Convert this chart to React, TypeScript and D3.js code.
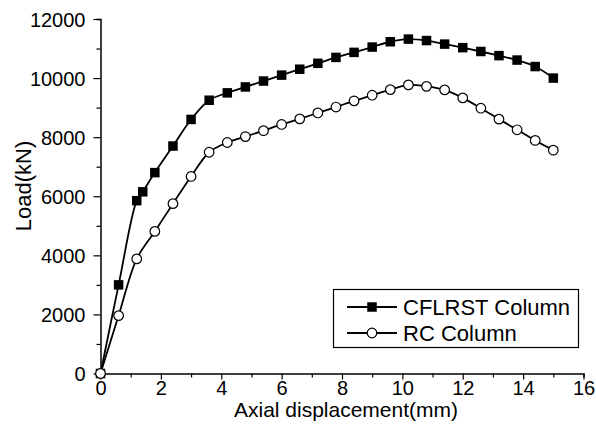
import React, { useEffect, useRef } from 'react';
import * as d3 from 'd3';

// displacement (mm) / load (kN)
const cflrstX = [0, 0.6, 1.2, 1.4, 1.8, 2.4, 3.0, 3.6, 4.2, 4.8, 5.4, 6.0, 6.6, 7.2, 7.8, 8.4, 9.0, 9.6, 10.2, 10.8, 11.4, 12.0, 12.6, 13.2, 13.8, 14.4, 15.0];
const cflrstY = [0, 3000, 5850, 6150, 6800, 7700, 8600, 9250, 9500, 9700, 9900, 10100, 10300, 10500, 10700, 10870, 11050, 11230, 11320, 11270, 11150, 11030, 10900, 10760, 10610, 10390, 10000];

const rcX = [0, 0.6, 1.2, 1.8, 2.4, 3.0, 3.6, 4.2, 4.8, 5.4, 6.0, 6.6, 7.2, 7.8, 8.4, 9.0, 9.6, 10.2, 10.8, 11.4, 12.0, 12.6, 13.2, 13.8, 14.4, 15.0];
const rcY = [0, 1960, 3880, 4810, 5750, 6670, 7490, 7820, 8020, 8220, 8430, 8620, 8820, 9020, 9230, 9420, 9610, 9770, 9720, 9600, 9330, 8980, 8610, 8250, 7890, 7560];

const xTicks = [0, 2, 4, 6, 8, 10, 12, 14, 16];
const yTicks = [0, 2000, 4000, 6000, 8000, 10000, 12000];
const seriesNames = ['CFLRST Column', 'RC Column'];

const W = 596;
const H = 432;
const FONT = 'Arial, "Liberation Sans", sans-serif';

const App = () => {
    const svgRef = useRef<SVGSVGElement>(null);

    useEffect(() => {
        const svg = d3.select(svgRef.current);
        svg.selectAll('*').remove();

        const x = d3.scaleLinear().domain([0, 16]).range([100.5, 583.5]);
        const y = d3.scaleLinear().domain([0, 12000]).range([373.5, 19]);

        // x axis, minor ticks every 1 mm
        const xAxis = svg.append('g')
            .attr('transform', `translate(0,${y(0)})`)
            .call(d3.axisBottom(x).tickValues(d3.range(0, 17, 1)).tickSize(4).tickFormat(() => ''));
        xAxis.selectAll('.tick text').remove();
        xAxis.selectAll('.tick line').filter((d: any) => xTicks.includes(d)).attr('y2', 6);
        xAxis.selectAll('.tick').filter((d: any) => xTicks.includes(d)).append('text')
            .attr('y', 21).attr('fill', '#000').attr('text-anchor', 'middle')
            .style('font-size', '20px').style('font-family', FONT)
            .text((d: any) => d);
        xAxis.select('.domain').attr('stroke-width', 1.5);

        // y axis, minor ticks every 1000 kN
        const yAxis = svg.append('g')
            .attr('transform', `translate(${x(0)},0)`)
            .call(d3.axisLeft(y).tickValues(d3.range(0, 13000, 1000)).tickSize(4).tickFormat(() => ''));
        yAxis.selectAll('.tick text').remove();
        yAxis.selectAll('.tick line').filter((d: any) => yTicks.includes(d)).attr('x2', -7);
        yAxis.selectAll('.tick').filter((d: any) => yTicks.includes(d)).append('text')
            .attr('x', -15).attr('dy', '0.35em').attr('fill', '#000').attr('text-anchor', 'end')
            .style('font-size', '20px').style('font-family', FONT)
            .text((d: any) => d);
        yAxis.select('.domain').attr('stroke-width', 1.5);
        svg.selectAll('.tick line').attr('stroke-width', 1.2);

        // titles
        svg.append('text')
            .attr('x', 346).attr('y', 417).attr('text-anchor', 'middle')
            .style('font-size', '21px').style('font-family', FONT)
            .text('Axial displacement(mm)');
        svg.append('text')
            .attr('transform', 'translate(31,186) rotate(-90)').attr('text-anchor', 'middle')
            .style('font-size', '22px').style('font-family', FONT)
            .text('Load(kN)');

        const lineGen = d3.line<[number, number]>()
            .x(d => x(d[0]))
            .y(d => y(d[1]))
            .curve(d3.curveCatmullRom.alpha(0.5));

        const cflrst: [number, number][] = cflrstX.map((v, i) => [v, cflrstY[i]]);
        const rc: [number, number][] = rcX.map((v, i) => [v, rcY[i]]);

        svg.append('path').datum(cflrst)
            .attr('d', lineGen).attr('fill', 'none').attr('stroke', '#000').attr('stroke-width', 1.8);
        svg.append('path').datum(rc)
            .attr('d', lineGen).attr('fill', 'none').attr('stroke', '#000').attr('stroke-width', 1.8);

        const sq = 9.5;
        svg.selectAll('.sq').data(cflrst).enter().append('rect')
            .attr('x', d => x(d[0]) - sq / 2).attr('y', d => y(d[1]) - sq / 2)
            .attr('width', sq).attr('height', sq).attr('fill', '#000');
        svg.selectAll('.ci').data(rc).enter().append('circle')
            .attr('cx', d => x(d[0])).attr('cy', d => y(d[1])).attr('r', 4.8)
            .attr('fill', '#fff').attr('stroke', '#000').attr('stroke-width', 1.2);

        // legend
        const lg = svg.append('g');
        lg.append('rect').attr('x', 333.5).attr('y', 289.5).attr('width', 245).attr('height', 58)
            .attr('fill', '#fff').attr('stroke', '#000').attr('stroke-width', 1.2);
        seriesNames.forEach((name, i) => {
            const cy = 307 + i * 26;
            lg.append('line').attr('x1', 347).attr('x2', 397).attr('y1', cy).attr('y2', cy)
                .attr('stroke', '#000').attr('stroke-width', 1.8);
            if (i === 0) {
                lg.append('rect').attr('x', 372 - sq / 2).attr('y', cy - sq / 2)
                    .attr('width', sq).attr('height', sq).attr('fill', '#000');
            } else {
                lg.append('circle').attr('cx', 372).attr('cy', cy).attr('r', 4.8)
                    .attr('fill', '#fff').attr('stroke', '#000').attr('stroke-width', 1.2);
            }
            lg.append('text').attr('x', 403).attr('y', cy).attr('dy', '0.36em')
                .style('font-size', '22px').style('font-family', FONT)
                .text(name);
        });
    }, []);

    return (
        <svg ref={svgRef} width={W} height={H}
            style={{ position: 'absolute', left: 0, top: 0, background: '#fff' }} />
    );
};

export default App;
